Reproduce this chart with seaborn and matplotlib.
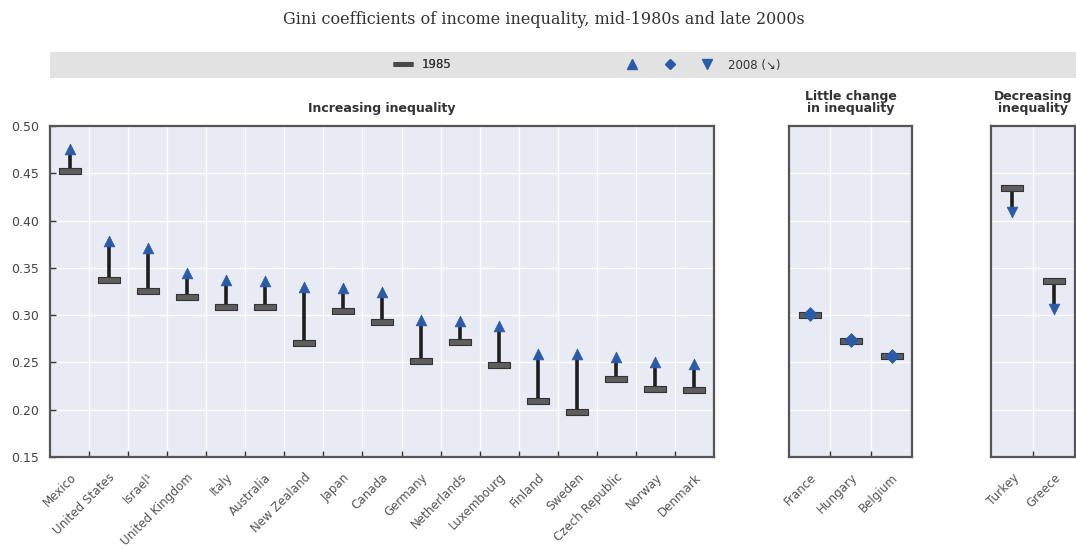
import numpy as np
import pandas as pd
import matplotlib.pyplot as plt
import seaborn as sns
from matplotlib.lines import Line2D
from matplotlib.legend_handler import HandlerTuple
from matplotlib.patches import Rectangle

# data (Gini coefficients)
inc_countries = ['Mexico', 'United States', 'Israel¹', 'United Kingdom', 'Italy', 'Australia',
                 'New Zealand', 'Japan', 'Canada', 'Germany', 'Netherlands', 'Luxembourg',
                 'Finland', 'Sweden', 'Czech Republic', 'Norway', 'Denmark']
inc_1985 = [0.452, 0.337, 0.326, 0.319, 0.309, 0.309, 0.271, 0.304, 0.293, 0.251, 0.272,
            0.247, 0.209, 0.198, 0.232, 0.222, 0.221]
inc_2008 = [0.476, 0.378, 0.371, 0.345, 0.337, 0.336, 0.330, 0.329, 0.324, 0.295, 0.294,
            0.288, 0.259, 0.259, 0.256, 0.250, 0.248]

flat_countries = ['France', 'Hungary', 'Belgium']
flat_1985 = [0.300, 0.273, 0.257]
flat_2008 = [0.301, 0.274, 0.257]

dec_countries = ['Turkey', 'Greece']
dec_1985 = [0.434, 0.336]
dec_2008 = [0.409, 0.307]

yticks = [0.15, 0.20, 0.25, 0.30, 0.35, 0.40, 0.45, 0.50]

BLUE = '#2b5ba8'
BAR_FACE = '#5e5e5e'
BAR_EDGE = '#333333'
bar_marker = [(-1, -0.24), (1, -0.24), (1, 0.24), (-1, 0.24), (-1, -0.24)]

sns.set_style('darkgrid', {'axes.facecolor': '#e8eaf4', 'grid.color': 'white',
                           'axes.edgecolor': '#555555'})
plt.rcParams['font.family'] = ['Liberation Sans Narrow', 'DejaVu Sans']

fig = plt.figure(figsize=(10.76, 5.49), dpi=100)

W = 1076.0
H = 549.0
panels = [
    (inc_countries, inc_1985, inc_2008, '^', 'Increasing inequality', 50, 664),
    (flat_countries, flat_1985, flat_2008, 'D', 'Little change\nin inequality', 789, 123),
    (dec_countries, dec_1985, dec_2008, 'v', 'Decreasing\ninequality', 991, 84),
]

for i, (names, v85, v08, mk, title, x0, w) in enumerate(panels):
    ax = fig.add_axes([x0 / W, 1 - 457 / H, w / W, 331 / H])
    df = pd.DataFrame({'country': names, 'y1985': v85, 'y2008': v08})
    df['pos'] = np.arange(len(df))
    ax.vlines(df['pos'], df['y1985'], df['y2008'], color='#1e1e1e', lw=2.6, zorder=3)
    sns.scatterplot(data=df, x='pos', y='y1985', marker=bar_marker, s=230,
                    color=BAR_FACE, edgecolor=BAR_EDGE, linewidth=0.8, ax=ax, zorder=4)
    sns.scatterplot(data=df, x='pos', y='y2008', marker=mk, s=60 if mk != 'D' else 50,
                    color=BLUE, edgecolor=BLUE, linewidth=0.5, ax=ax, zorder=5)
    ax.set_xlim(-0.5, len(df) - 0.5)
    ax.set_ylim(0.15, 0.50)
    ax.set_yticks(yticks)
    ax.set_xticks(df['pos'])
    ax.set_xticklabels(names, rotation=45, ha='right', rotation_mode='anchor',
                       fontsize=8.6, color='#555555')
    ax.set_xticks(df['pos'][:-1] + 0.5, minor=True)
    ax.tick_params(axis='x', which='major', length=0, pad=10)
    ax.tick_params(axis='x', which='minor', direction='in', length=4, width=1, color='#333333',
                   bottom=True)
    ax.grid(False, axis='x', which='major')
    ax.grid(True, axis='x', which='minor', color='white', lw=1)
    ax.grid(True, axis='y', which='major', color='white', lw=1)
    ax.set_xlabel('')
    ax.set_ylabel('')
    if i == 0:
        ax.set_yticklabels([f'{t:.2f}' for t in yticks], fontsize=9, color='#444444')
        ax.tick_params(axis='y', direction='in', length=4, width=1, color='#333333', left=True,
                       pad=8)
    else:
        ax.tick_params(axis='y', length=0, labelleft=False)
    for sp in ax.spines.values():
        sp.set_visible(True)
        sp.set_linewidth(1.6)
        sp.set_color('#555555')
    ax.set_title(title, fontsize=9, fontweight='bold', color='#333333', pad=10,
                 linespacing=0.9)

# legend band
fig.patches.append(Rectangle((50 / W, 1 - 78 / H), 1026 / W, 26 / H, transform=fig.transFigure,
                             facecolor='#e2e2e2', edgecolor='none', zorder=0))

h85 = Line2D([], [], ls='none', marker='_', markersize=14, markeredgewidth=3.5, color='#4a4a4a')
leg1 = fig.legend(handles=[h85], labels=['1985'], loc='center', bbox_to_anchor=(423 / W, 1 - 65 / H),
                  frameon=False, fontsize=8.5, handlelength=1.5, handletextpad=0.8,
                  labelcolor='#333333')
t_up = Line2D([], [], ls='none', marker='^', markersize=7, color=BLUE)
t_dia = Line2D([], [], ls='none', marker='D', markersize=5.5, color=BLUE)
t_dn = Line2D([], [], ls='none', marker='v', markersize=7, color=BLUE)
leg2 = fig.legend(handles=[(t_up, t_dia, t_dn)], labels=['2008 (↘)'], loc='center',
                  bbox_to_anchor=(697 / W, 1 - 65 / H), frameon=False, fontsize=8.5,
                  handlelength=9.5, handletextpad=0.2, labelcolor='#333333',
                  handler_map={tuple: HandlerTuple(ndivide=None, pad=0.0)})
fig.add_artist(leg1)

fig.text(0.505, 1 - 20 / H, 'Gini coefficients of income inequality, mid-1980s and late 2000s',
         ha='center', va='center', fontsize=11.5, family='DejaVu Serif', color='#333333')

fig.savefig('out.png', dpi=100)
